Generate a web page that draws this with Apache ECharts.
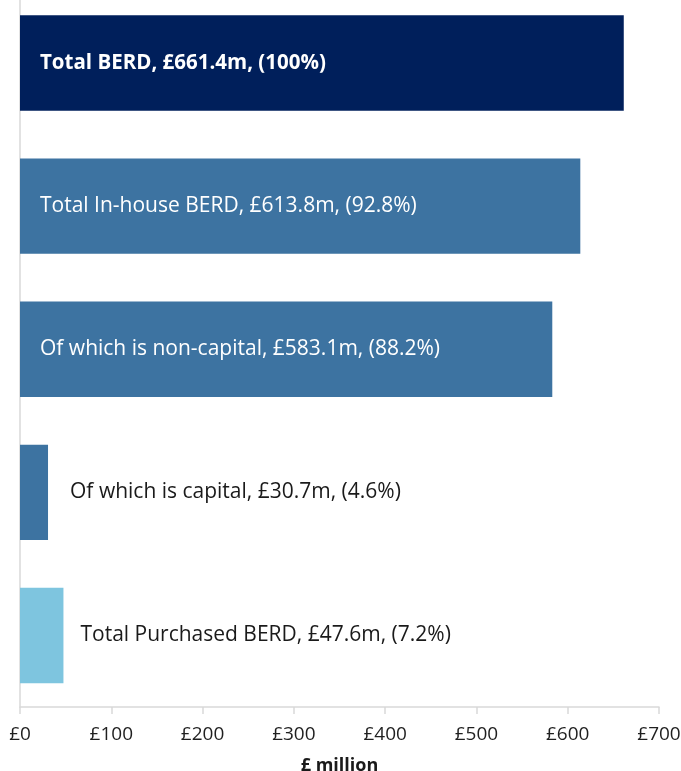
<!DOCTYPE html>
<html><head><meta charset="utf-8">
<script src="https://cdn.jsdelivr.net/npm/echarts@6/dist/echarts.min.js"></script>
<style>html,body{margin:0;padding:0;background:#fff}#c{width:681px;height:771px}</style>
</head><body><div id="c"></div>
<script>
const categories = ["Total BERD", "Total In-house BERD", "Of which is non-capital", "Of which is capital", "Total Purchased BERD"];
const values = [661.4, 613.8, 583.1, 30.7, 47.6];
const percents = ["100%", "92.8%", "88.2%", "4.6%", "7.2%"];
const barColors = ["#001F5B", "#3D73A1", "#7EC5DF"];
const xTicks = [0, 100, 200, 300, 400, 500, 600, 700];

const colorIdx = [0, 1, 1, 1, 2];
const inside = [true, true, true, false, false];
const bold = [true, false, false, false, false];
const dist = [20, 20, 20, 22, 17];

const chart = echarts.init(document.getElementById('c'), null, {renderer: 'canvas'});
chart.setOption({
  animation: false,
  grid: {left: 20, top: -8.5, width: 639, height: 715.5, containLabel: false, outerBoundsMode: 'none'},
  xAxis: {
    type: 'value', min: xTicks[0], max: xTicks[xTicks.length - 1], interval: 100,
    axisLine: {show: true, lineStyle: {color: '#d9d9d9', width: 1.5}},
    axisTick: {show: true, length: 7, lineStyle: {color: '#d9d9d9', width: 1.5}},
    splitLine: {show: false},
    axisLabel: {color: '#1f1f1f', fontSize: 19, fontFamily: 'Open Sans', margin: 18,
      formatter: v => '£' + v},
    name: '£ million', nameLocation: 'middle', nameGap: 50,
    nameTextStyle: {color: '#1a1a1a', fontSize: 18, fontWeight: 'bold', fontFamily: 'Open Sans'}
  },
  yAxis: {
    type: 'category', data: categories, inverse: true,
    axisLine: {show: true, lineStyle: {color: '#d9d9d9', width: 1.5}},
    axisTick: {show: false}, axisLabel: {show: false}
  },
  series: [{
    type: 'bar', barCategoryGap: '33.3%',
    data: values.map((v, i) => ({
      value: v,
      itemStyle: {color: barColors[colorIdx[i]]},
      label: {
        show: true,
        position: inside[i] ? 'insideLeft' : 'right',
        distance: dist[i],
        color: inside[i] ? '#ffffff' : '#1a1a1a',
        fontWeight: bold[i] ? 'bold' : 'normal',
        fontSize: bold[i] ? 20.5 : 21, fontFamily: 'Open Sans',
        formatter: () => categories[i] + ', £' + v.toFixed(1) + 'm, (' + percents[i] + ')'
      }
    }))
  }]
});
</script></body></html>
